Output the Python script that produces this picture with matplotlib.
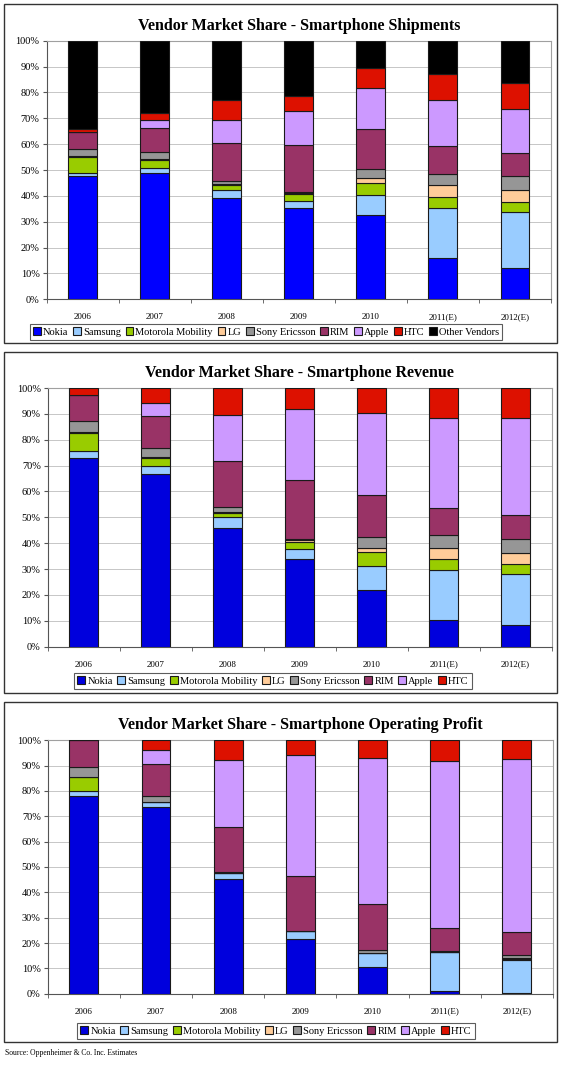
import numpy as np
import matplotlib
matplotlib.use("Agg")
import matplotlib.pyplot as plt
from matplotlib.patches import Rectangle

plt.rcParams['font.family'] = ['Liberation Serif', 'DejaVu Serif']

# Datos (porcentajes)
years = ['2006', '2007', '2008', '2009', '2010', '2011(E)', '2012(E)']

vendors = ['Nokia', 'Samsung', 'Motorola Mobility', 'LG', 'Sony Ericsson',
           'RIM', 'Apple', 'HTC', 'Other Vendors']
colors = ['#0000ee', '#99ccff', '#99cc00', '#ffcc99', '#969696',
          '#993366', '#cc99ff', '#dd1100', '#000000']

# Envios
ship_nokia = [47.6, 49.0, 39.2, 35.2, 32.6, 16.0, 12.0]
ship_samsung = [1.4, 1.8, 2.9, 2.8, 7.9, 19.3, 21.9]
ship_moto = [6.2, 3.2, 2.1, 2.6, 4.5, 4.1, 3.9]
ship_lg = [0.4, 0.4, 0.4, 0.4, 2.0, 4.7, 4.6]
ship_se = [2.5, 2.4, 1.3, 0.6, 3.3, 4.2, 5.2]
ship_rim = [6.7, 9.3, 14.5, 18.1, 15.7, 11.1, 8.8]
ship_apple = [0.0, 3.1, 9.1, 13.1, 15.6, 17.5, 17.3]
ship_htc = [1.2, 3.0, 7.7, 5.9, 8.0, 10.3, 9.8]
ship_other = [34.0, 27.8, 22.8, 21.3, 10.4, 12.8, 16.5]

# Ingresos
rev_nokia = [72.8, 66.6, 45.9, 33.8, 21.9, 10.4, 8.4]
rev_samsung = [2.7, 3.1, 4.2, 3.8, 9.4, 19.1, 19.7]
rev_moto = [7.1, 3.1, 1.4, 3.0, 5.2, 4.4, 4.0]
rev_lg = [0.5, 0.5, 0.4, 0.6, 1.8, 4.4, 4.1]
rev_se = [4.1, 3.5, 2.0, 0.6, 4.2, 4.7, 5.3]
rev_rim = [10.1, 12.4, 17.7, 22.5, 16.1, 10.5, 9.4]
rev_apple = [0.0, 5.0, 18.1, 27.5, 31.9, 34.8, 37.4]
rev_htc = [2.7, 5.8, 10.3, 8.2, 9.5, 11.7, 11.7]

# Beneficio operativo
op_nokia = [78.0, 73.7, 45.3, 21.6, 10.5, 1.1, 0.2]
op_samsung = [2.0, 2.1, 2.5, 3.0, 5.7, 15.3, 13.2]
op_moto = [5.4, 0.0, 0.0, 0.0, 0.0, 0.0, 0.4]
op_lg = [0.0, 0.0, 0.0, 0.0, 0.0, 0.0, 0.3]
op_se = [4.2, 2.4, 0.2, 0.2, 1.2, 0.6, 1.1]
op_rim = [10.4, 12.3, 17.9, 21.5, 18.0, 8.9, 9.1]
op_apple = [0.0, 5.7, 26.3, 48.0, 57.5, 65.9, 68.3]
op_htc = [0.0, 3.8, 7.8, 5.7, 7.1, 8.2, 7.4]

W, H = 564, 1069
fig = plt.figure(figsize=(W / 100, H / 100), dpi=100)


def px_axes(x0, y0, x1, y1):
    # coordenadas en pixeles (origen arriba a la izquierda)
    return fig.add_axes([x0 / W, 1 - y1 / H, (x1 - x0) / W, (y1 - y0) / H])


def frame(x0, y0, x1, y1):
    fig.patches.append(Rectangle((x0 / W, 1 - y1 / H), (x1 - x0) / W, (y1 - y0) / H,
                                 transform=fig.transFigure, fill=False,
                                 edgecolor='#333333', linewidth=1.0))


def panel(box, axbox, title, series, legend_y, legend_x, nokia_color):
    frame(*box)
    ax = px_axes(*axbox)
    x = np.arange(len(years))
    bottom = np.zeros(len(years))
    for i, vals in enumerate(series):
        vals = np.array(vals)
        c = nokia_color if i == 0 else colors[i]
        ax.bar(x, vals, 0.4, bottom=bottom, color=c,
               edgecolor='#1a1a1a', linewidth=0.8, label=vendors[i], zorder=3)
        bottom += vals
    ax.set_xlim(-0.5, len(years) - 0.5)
    ax.set_ylim(0, 100)
    ax.set_yticks(np.arange(0, 101, 10))
    ax.set_yticklabels([f'{v}%' for v in range(0, 101, 10)], fontsize=7.5)
    ax.set_xticks(x)
    ax.set_xticklabels(years, fontsize=6.5)
    ax.set_xticks(np.arange(-0.5, len(years)), minor=True)
    ax.tick_params(axis='x', which='major', length=0, pad=10)
    ax.tick_params(axis='x', which='minor', length=3, color='#555555')
    ax.tick_params(axis='y', length=3, pad=2, color='#555555')
    ax.grid(axis='y', color='#bdbdbd', linewidth=0.6, zorder=0)
    for s in ['top', 'right']:
        ax.spines[s].set_color('#a0a0a0')
        ax.spines[s].set_linewidth(0.8)
    for s in ['left', 'bottom']:
        ax.spines[s].set_color('#555555')
        ax.spines[s].set_linewidth(0.8)
    ax.set_title(title, fontsize=11.5, fontweight='bold', pad=8)
    leg = ax.legend(loc='center', bbox_to_anchor=(legend_x / W, 1 - legend_y / H),
                    bbox_transform=fig.transFigure, ncol=len(series), fontsize=7.5,
                    frameon=True, fancybox=False, edgecolor='#333333',
                    handlelength=0.75, handleheight=0.75, handletextpad=0.2,
                    columnspacing=0.45, borderpad=0.3, borderaxespad=0)
    leg.get_frame().set_linewidth(0.8)
    return ax


panel((4, 4, 557, 343), (46.5, 40.7, 551, 299.3),
      'Vendor Market Share - Smartphone Shipments',
      [ship_nokia, ship_samsung, ship_moto, ship_lg, ship_se, ship_rim,
       ship_apple, ship_htc, ship_other], 332, 266, '#0000ff')

panel((4, 352, 557, 693), (47.7, 388, 551.7, 646.7),
      'Vendor Market Share - Smartphone Revenue',
      [rev_nokia, rev_samsung, rev_moto, rev_lg, rev_se, rev_rim,
       rev_apple, rev_htc], 681, 273, '#0000dd')

panel((4, 702, 557, 1042), (47.7, 740.3, 553, 993.7),
      'Vendor Market Share - Smartphone Operating Profit',
      [op_nokia, op_samsung, op_moto, op_lg, op_se, op_rim,
       op_apple, op_htc], 1031, 276, '#0000dd')

fig.text(5 / W, 1 - 1053 / H, 'Source: Oppenheimer & Co. Inc. Estimates',
         fontsize=5.5, va='center', ha='left')

fig.savefig('out.png', dpi=100)
